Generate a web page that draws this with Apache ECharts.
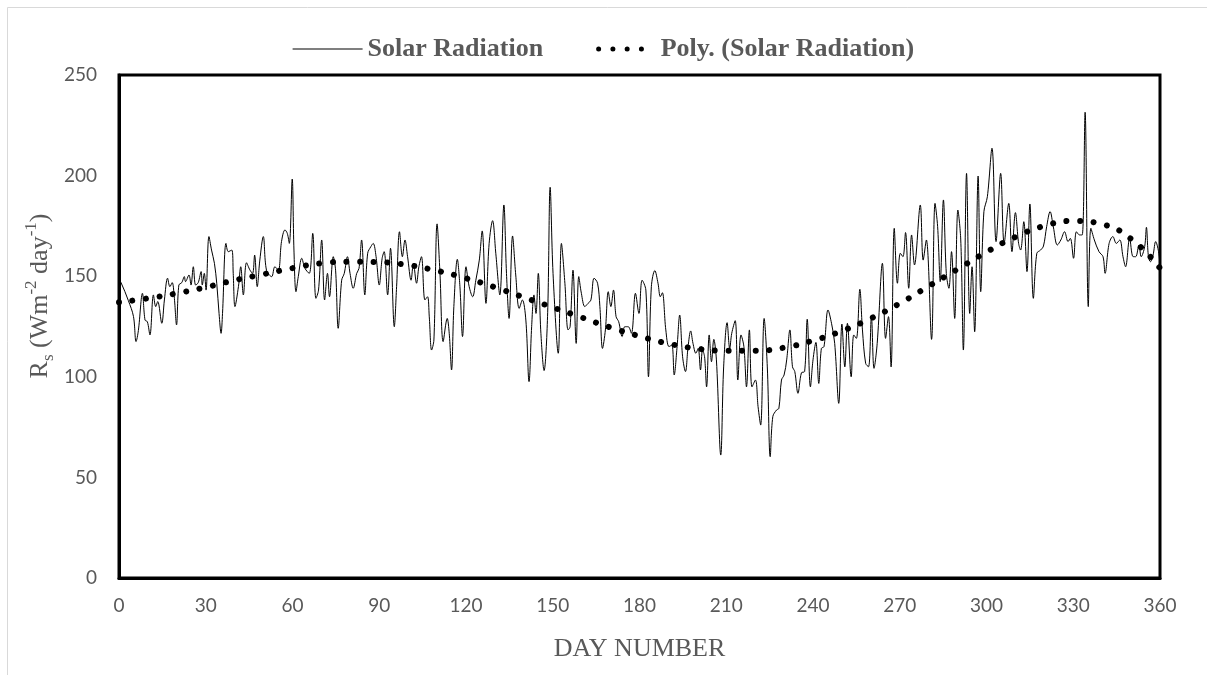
<!DOCTYPE html>
<html>
<head>
<meta charset="utf-8">
<script src="https://cdn.jsdelivr.net/npm/echarts@6/dist/echarts.min.js"></script>
<style>html,body{margin:0;padding:0;background:#fff}#c{width:1207px;height:675px}</style>
</head>
<body>
<div id="c"></div>
<script>
// Solar radiation: day numbers and values
const rsDay = [0,0.7,3.2,5,5.9,6.7,8.1,9,9.8,10.7,11.9,12.7,13.4,14.8,15.7,16.8,17.6,18.4,19.1,19.9,20.7,21.7,22.6,23,24.2,24.9,25.7,26.5,27.4,28.4,28.8,29.5,30.1,31.1,32,33,33.8,34.6,35.3,
35.8,37,37.8,39,39.5,40.1,41.3,42.1,43,44.1,45.3,46.2,46.9,47.8,48.7,49.9,51,52.8,53.9,55.1,56.2,57.4,58.2,58.9,59.9,60.5,61.2,62,63.2,64.3,65.8,67,68.1,69,70.1,71.1,72.1,
72.8,74.1,74.9,75.8,77,77.9,79,79.9,81,82.2,83,83.9,85,86,87.1,87.9,88.9,90,91,91.7,92.9,93.9,95.2,96,97,98,98.9,99.8,101,101.8,102.9,103.7,104.6,105.8,106.7,107.3,108.1,
108.9,110,111,112.1,113.5,114.2,115,115.8,117,117.9,118.8,120,121.1,122.3,123.4,124.6,125.6,126.9,128,129.2,130.3,131.7,133.1,134,134.9,136.1,137.2,138.4,139.5,140.7,141.8,142.7,143.5,144.2,145,
145.9,147,148.2,149.1,150.1,151.9,153,154.2,155.3,156,157,158.1,159,159.9,161.1,162.2,163.2,164.3,165.5,166.3,167.2,168.2,169.2,170.1,171,171.9,172.8,174,174.9,176.1,177.2,178.6,179.8,180.9,
182.2,183.1,184.1,185.3,186.4,187.2,187.9,189.1,190.2,191.2,192,193,193.9,194.9,195.9,196.8,197.7,198.5,199.5,200.3,201.1,201.8,202.5,203.2,204.1,204.9,205.7,206.6,208.1,209.1,210.3,211.2,211.9,213.1,214,215.1,216.1,217,
218,218.9,220.1,221,221.9,223.1,224.2,225.2,226.1,227.4,228.2,229.1,230,230.9,232,232.9,233.7,234.8,236,237.1,238,239.1,240,241,242,242.9,243.8,245.2,246.4,247.5,248.9,250,251,251.9,253.2,
254.1,255,256.2,257.1,258.2,259.2,260.2,261.1,262.2,264,265.1,266.1,267,268.1,269.2,270.2,271.1,272,273.1,274.1,275.1,277.1,278.1,279.2,281,282.2,283.1,284,285.1,286.1,287,287.9,289,
290.1,291.1,292,293.1,294.2,295,295.9,297.1,298,299.1,300.3,301.9,303.3,304.9,306.1,307.7,308.8,310,311.1,311.8,312.9,314,315,316.2,317.4,318.7,319.7,320.8,322,323.1,324.5,325.7,
327,328.2,329,330.1,331.1,332.2,333.1,334.1,335.2,336.1,337.3,338.9,340.3,341,342.4,343.7,344.9,346.1,347.2,348.1,349.5,350.7,351.6,352.7,353.5,354.7,355.3,356,356.7,357.6,358.5,359.5,360];
const rsValue = [148,146.8,138,130,117.5,123,141.5,128.2,127.4,120.8,140.7,134.9,137.4,126.6,138.2,149,144.8,146.8,139.8,125.8,145.6,146.8,149.8,147.3,150.6,145.6,154.7,145.6,146.8,152.3,145.6,151.4,143.1,169.7,163,156.4,146.5,131.5,121.6,
131.5,166.3,162.2,163,151.4,134.9,144.8,154.7,140.7,156.7,153,151.4,160.5,144.8,158,169.7,153,149.8,154.7,153,167.2,173,171.3,166.3,198.3,163,142.3,149.8,158.9,153.9,151.4,171.3,139,143.1,168,138.2,151.4,
139.8,159.7,153,124.1,148,151.4,159.7,151.4,144,151.4,153.9,168,140.7,161.4,164.7,166.3,159.7,145.6,158.9,162.2,140.7,163.9,124.9,144.8,172.1,159.7,168,159.7,148,156.4,146.5,154.7,159.7,138.2,139.8,129.8,113.3,
118.3,176,151.4,117.5,129,121.6,103.4,134.9,158.4,144.8,120,154.7,144.8,139.8,148,158,172.5,136.5,166.3,177.6,161.4,140.7,185.4,151.4,129,170,150.6,134,138.2,128.2,97.6,124.9,140.7,131.5,151.4,
121.6,103.1,129.9,194.2,151.4,111.7,166.3,146.5,123.3,124.9,153,116.6,149.8,141.5,134.9,136.5,138.2,149,146.5,134.9,114.1,123.3,142.3,134.9,143.1,129.9,127.4,120,124.9,124.9,121.6,141.5,131.5,148,
143.1,100,144.8,152.8,146.5,139.8,141.8,123.3,115,115.8,100.9,115,130.7,110,102.6,115,122.8,116.6,111.7,114.1,103.4,113.3,110,95,120.8,107.5,118.6,108.4,61.1,104.9,126.9,114.1,121.6,127.9,98.4,120.8,115,95,
123.3,95,98.4,85.2,76,129,104.9,60.3,80.2,83.5,84.3,98.4,100.9,108.4,123.3,105,102.6,91.8,102,102.6,128.6,95,108.4,117.1,96.7,114.1,115,133.2,126.6,116.6,86.8,126.2,104.9,126.6,100,
120.8,119.1,143.5,123.3,106.7,105,129.9,104.2,116.6,156.4,119.1,129.9,104.9,173.8,146.5,161.4,159.7,171.7,144,170.5,155.6,185.4,158,168,118.6,186.2,174.6,147.3,187.9,151.4,144,162.2,129,
182.9,168,113.3,201.1,131.5,154.7,122.4,199.8,142.3,182.1,189.5,213.6,167.2,201.1,166.3,186.2,162.2,181.6,166.3,163,177.1,152.3,185.9,139,161.4,163,165,174.6,182.1,174.6,165.5,168,
172.1,167.2,168.8,158.9,172.1,170.5,170.5,231.5,134.9,173.8,168,162.2,159.7,151.4,166.3,169.7,166.3,168,159.7,154.7,168.8,159.7,159.7,165.5,159.7,164.7,174.3,159.7,157.2,160.5,167.2,162.2,154.7];

// Polynomial trend read at every 10 days
const trendDay = [0,10,20,30,40,50,60,70,80,90,100,110,120,130,140,150,160,170,180,190,200,210,220,230,240,250,260,270,280,290,300,310,320,330,340,350,360];
const trendValue = [137,139,141.5,144.5,148,151,154,156.4,157.2,157,155.5,152.7,149,144.5,139.5,134.5,129.5,124.5,120.2,116.5,114,113,113,114.5,118,122.8,129,136.5,145,153.5,162,169.5,175,177.5,175.8,168.5,154];

const xTicks = {min: 0, max: 360, interval: 30};
const yTicks = {min: 0, max: 250, interval: 50};

const chart = echarts.init(document.getElementById('c'), null, {renderer: 'canvas'});
const grey = '#595959';
const dotted = {color: '#000', width: 6, type: [0.01, 13.6], cap: 'round'};
chart.setOption({
  animation: false,
  backgroundColor: '#fff',
  grid: {left: 119, right: 47, top: 75, bottom: 97, show: true, borderColor: '#000', borderWidth: 3, backgroundColor: 'transparent'},
  legend: {
    left: 287, top: 31, itemWidth: 70, itemHeight: 14, itemGap: 40,
    textStyle: {fontFamily: 'Liberation Serif', fontWeight: 'bold', fontSize: 26, color: grey},
    itemStyle: {opacity: 0, color: 'transparent', borderWidth: 0},
    data: [
      {name: 'Solar Radiation', itemStyle: {opacity: 0, color: 'transparent', borderWidth: 0},
       lineStyle: {color: '#000', width: 1.2, type: 'solid'}},
      {name: 'Poly. (Solar Radiation)', itemStyle: {opacity: 0, color: 'transparent', borderWidth: 0},
       lineStyle: {color: '#000', width: 5, type: [0.01, 14.25], cap: 'round', dashOffset: 1.25}}
    ]
  },
  xAxis: {
    type: 'value', min: xTicks.min, max: xTicks.max, interval: xTicks.interval,
    name: 'DAY NUMBER', nameLocation: 'middle', nameGap: 58,
    nameTextStyle: {fontFamily: 'Liberation Serif', fontSize: 26, color: grey},
    axisLine: {show: true, lineStyle: {color: '#000', width: 3}},
    axisTick: {show: false},
    splitLine: {show: false},
    axisLabel: {fontFamily: 'Lato', fontSize: 19, color: grey, margin: 18}
  },
  yAxis: {
    type: 'value', min: yTicks.min, max: yTicks.max, interval: yTicks.interval,
    axisLine: {show: true, lineStyle: {color: '#000', width: 3}},
    axisTick: {show: false},
    splitLine: {show: false},
    axisLabel: {fontFamily: 'Lato', fontSize: 19, color: grey, margin: 22}
  },
  graphic: [
    {type: 'rect', silent: true, shape: {x: 7.5, y: 7.5, width: 1400, height: 1000}, style: {fill: 'none', stroke: '#d9d9d9', lineWidth: 1}},
    {type: 'text', x: 40, y: 296, rotation: Math.PI / 2,
     style: {
       text: '{a|R}{b|s}{a| (Wm}{c|-2}{a| day}{c|-1}{a|)}',
       align: 'center', verticalAlign: 'middle',
       rich: {
         a: {fontFamily: 'Liberation Serif', fontSize: 26, fill: grey, color: grey, lineHeight: 34, verticalAlign: 'middle'},
         b: {fontFamily: 'Liberation Serif', fontSize: 17, fill: grey, color: grey, lineHeight: 17, verticalAlign: 'bottom'},
         c: {fontFamily: 'Liberation Serif', fontSize: 17, fill: grey, color: grey, lineHeight: 17, verticalAlign: 'top'}
       }
     }}
  ],
  series: [
    {
      name: 'Solar Radiation', type: 'line', symbol: 'none', smooth: 0.35,
      data: rsDay.map((d, i) => [d, rsValue[i]]),
      lineStyle: {color: '#000', width: 1}, itemStyle: {color: '#000'}, z: 3
    },
    {
      name: 'Poly. (Solar Radiation)', type: 'line', symbol: 'none', smooth: true,
      data: trendDay.map((d, i) => [d, trendValue[i]]),
      lineStyle: dotted, itemStyle: {color: '#000'}, z: 2
    }
  ]
});
</script>
</body>
</html>
